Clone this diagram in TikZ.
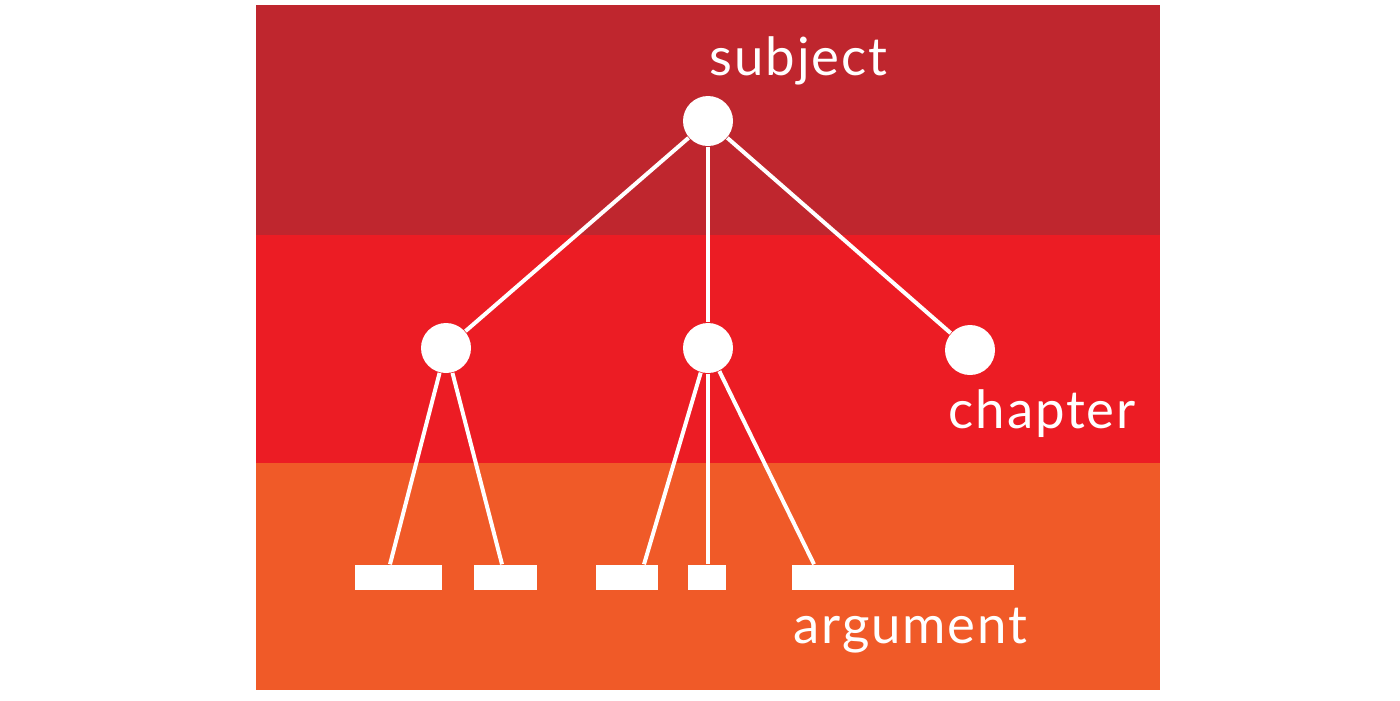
\documentclass[tikz,border=0pt]{standalone}
\usepackage{fontspec}
\setmainfont{Lato}
\newfontfamily\lblfont[LetterSpace=3.5]{Lato}
\usepackage{xcolor}
\usetikzlibrary{positioning}
\definecolor{bandtop}{HTML}{BF262E}
\definecolor{bandmid}{HTML}{EC1C24}
\definecolor{bandlow}{HTML}{F05A28}

\begin{document}
\begin{tikzpicture}[x=0.1mm,y=-0.1mm,
            dot/.style={circle, fill=white, draw=none, minimum size=5mm, inner sep=0pt},
            bar/.style={rectangle, fill=white, draw=none, minimum height=2.5mm, inner sep=0pt},
            lbl/.style={text=white, anchor=base west, inner sep=0pt, font=\lblfont\fontsize{15}{18}\selectfont},
            edge/.style={draw=white, line width=0.4mm}]

        \useasboundingbox (0,0) rectangle (1400,700);
        \fill[bandtop] (256,5) rectangle (1160,235);
        \fill[bandmid] (256,235) rectangle (1160,463);
        \fill[bandlow] (256,463) rectangle (1160,690);

        \node[dot] (S) at (708,121) {};
        \node[dot] (C1) at (446,348) {};
        \node[dot] (C2) at (708,348) {};
        \node[dot] (C3) at (970,350) {};

        \node[bar,minimum width=8.7mm] (A1) at (398.5,577.5) {};
        \node[bar,minimum width=6.3mm] (A2) at (505.5,577.5) {};
        \node[bar,minimum width=6.2mm] (A3) at (627,577.5) {};
        \node[bar,minimum width=3.8mm] (A4) at (707,577.5) {};
        \node[bar,minimum width=22.2mm] (A5) at (903,577.5) {};

        \node[lbl] (subj) at (709,75) {subject};
        \node[lbl] (chap) at (948,428) {chapter};
        \node[lbl] (arg) at (793,643) {argument};

        \path[edge] (S) -- (C1);
        \path[edge] (S) -- (C2);
        \path[edge] (S) -- (C3);
        \path[edge] (C1) -- ([xshift=-0.85mm]A1.north);
        \path[edge] (C1) -- ([xshift=-0.35mm]A2.north);
        \path[edge] (C2) -- ([xshift=1.7mm]A3.north);
        \path[edge] (C2) -- ([xshift=0.1mm]A4.north);
        \path[edge] (C2) -- ([xshift=-8.9mm]A5.north);
    \end{tikzpicture}
\end{document}
